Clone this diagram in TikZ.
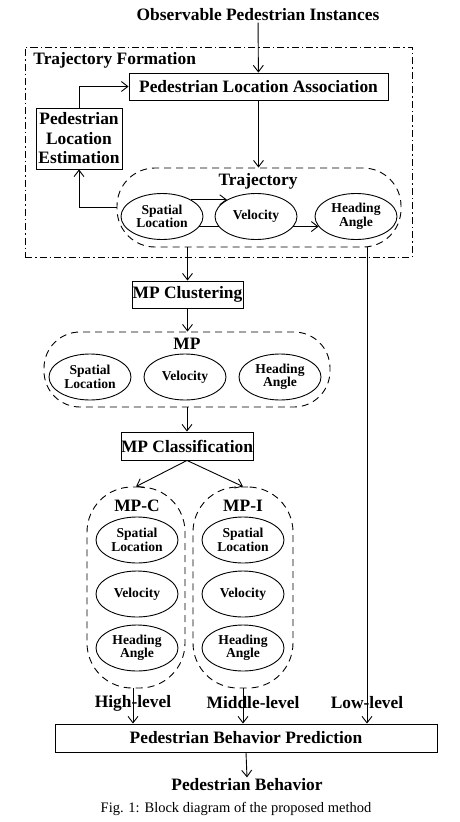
\documentclass[tikz,border=0pt]{standalone}
\usepackage{fontspec}
\setmainfont{Liberation Serif}
\usetikzlibrary{shapes}
\usetikzlibrary{arrows.meta}
\newcommand{\bigtext}{\fontsize{17.4}{19.5}\selectfont\bfseries}
\newcommand{\smalltext}{\fontsize{13.6}{13.5}\selectfont\bfseries}

\begin{document}
\begin{tikzpicture}[x=1pt, y=-1pt, line width=0.9pt,
  box/.style={draw, rectangle, inner sep=0pt, font=\bigtext, align=center},
  prop/.style={draw, ellipse, minimum width=82pt, minimum height=46pt, inner sep=0pt, font=\smalltext, align=center},
  dgroup/.style={draw, dash pattern=on 7pt off 5pt, inner sep=0pt},
  lbl/.style={font=\bigtext, inner sep=1pt},
  arr/.style={->, >={Straight Barb[length=6.5pt,width=10pt]}}]

    \useasboundingbox (0,0) rectangle (460,822);

    % Input
    \node[lbl] (obs) at (258,15) {Observable Pedestrian Instances};

    % Trajectory formation
    \node[draw, dash pattern=on 7pt off 3pt on 1.5pt off 3pt, minimum width=387pt, minimum height=210pt] (form) at (218.5,152) {};
    \node[lbl, anchor=west] (formlbl) at (32,60) {Trajectory Formation};
    \node[box, minimum width=259pt, minimum height=27pt] (pla) at (258.5,86.5) {Pedestrian Location Association};
    \node[box, minimum width=86pt, minimum height=61pt] (ple) at (79,138.5) {Pedestrian\\Location\\Estimation};

    % Trajectory
    \node[dgroup, rounded corners=38pt, minimum width=284pt, minimum height=79pt] (traj) at (259,207.5) {};
    \node[lbl] (trajlbl) at (258,181) {Trajectory};
    \node[prop] (tsl) at (162,216.5) {Spatial\\Location};
    \node[prop] (tvel) at (256,216.5) {Velocity};
    \node[prop] (tha) at (356,216.5) {Heading\\Angle};

    \draw[arr] (obs) -- (pla);
    \draw[arr] (ple.north) |- (pla.west);
    \draw[arr] (pla.south) -- (pla.south |- traj.north);
    \draw[arr] (traj.west) -| (ple.south);
    \draw[arr] (tsl.30) -- (tvel.150);
    \draw (tsl.-15) -- (tvel.195);
    \draw[arr] (tvel.-15) -- (tha.195);

    % MP
    \node[box, minimum width=111pt, minimum height=27pt] (clus) at (187.5,294.5) {MP Clustering};
    \node[dgroup, rounded corners=36pt, minimum width=286pt, minimum height=75pt] (mp) at (187,369.5) {};
    \node[lbl] (mplbl) at (187,344) {MP};
    \node[prop] (msl) at (90,377) {Spatial\\Location};
    \node[prop] (mvel) at (185,377) {Velocity};
    \node[prop] (mha) at (280,377) {Heading\\Angle};
    \node[box, minimum width=130pt, minimum height=28pt] (class) at (187,446) {MP Classification};

    \draw[arr] (traj.south -| clus.north) -- (clus.north);
    \draw[arr] (clus.south) -- (clus.south |- mp.north);
    \draw[arr] (mp.south) -- (class.north);

    % MP-C and MP-I
    \node[dgroup, rounded corners=45pt, minimum width=98pt, minimum height=201pt] (mpc) at (136,587.5) {};
    \node[dgroup, rounded corners=45pt, minimum width=100pt, minimum height=201pt] (mpi) at (243,587.5) {};
    \node[lbl] (mpclbl) at (137,506) {MP-C};
    \node[lbl] (mpilbl) at (243,506) {MP-I};
    \node[prop] (csl) at (137,540) {Spatial\\Location};
    \node[prop] (cvel) at (137,594) {Velocity};
    \node[prop] (cha) at (137,648) {Heading\\Angle};
    \node[prop] (isl) at (243,540) {Spatial\\Location};
    \node[prop] (ivel) at (243,594) {Velocity};
    \node[prop] (iha) at (243,648) {Heading\\Angle};

    \draw[arr] (class.south) -- (mpc.north);
    \draw[arr] (class.south) -- (mpi.north);

    % Prediction
    \node[lbl] (hilbl) at (133,703) {High-level};
    \node[lbl] (midlbl) at (253,703) {Middle-level};
    \node[lbl] (lowlbl) at (367,703) {Low-level};
    \node[box, minimum width=382pt, minimum height=28pt] (pbp) at (246,738) {Pedestrian Behavior Prediction};
    \node[lbl] (behav) at (247,785) {Pedestrian Behavior};

    \draw[arr] (hilbl |- mpc.south) -- (hilbl |- pbp.north);
    \draw[arr] (mpi.south) -- (mpi.south |- pbp.north);
    \draw[arr] (traj.south -| lowlbl) -- (lowlbl |- pbp.north);
    \draw[arr] (pbp.south) -- (behav.north);

    % Caption
    \node[font=\fontsize{14.5}{16}\selectfont] (cap) at (236,809) {Fig. 1: Block diagram of the proposed method};

\end{tikzpicture}
\end{document}
